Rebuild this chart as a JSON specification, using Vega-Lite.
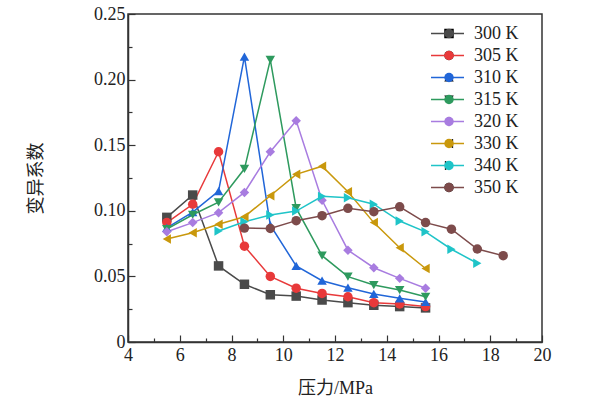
{
  "$schema": "https://vega.github.io/schema/vega-lite/v6.json",
  "width": 414,
  "height": 328,
  "autosize": "none",
  "padding": {"left": 128, "top": 14, "right": 58, "bottom": 62},
  "background": "white",
  "config": {
    "view": {"stroke": "#333333", "strokeWidth": 1.5},
    "font": "Liberation Serif, DejaVu Serif, serif",
    "axis": {
      "grid": false,
      "domainColor": "#333333",
      "domainWidth": 1.5,
      "tickColor": "#333333",
      "tickWidth": 1.2,
      "labelFont": "Liberation Serif, DejaVu Serif, serif",
      "labelFontSize": 18,
      "labelColor": "#222222",
      "titleFont": "Liberation Serif, Noto Sans CJK SC",
      "titleFontSize": 18,
      "titleFontWeight": "normal",
      "titleColor": "#222222"
    },
    "legend": {
      "labelFont": "Liberation Serif, DejaVu Serif, serif",
      "labelFontSize": 18,
      "labelColor": "#222222"
    }
  },
  "data": {
    "values": [
      {"T": "300 K", "P": 5.5, "v": 0.095},
      {"T": "300 K", "P": 6.5, "v": 0.112},
      {"T": "300 K", "P": 7.5, "v": 0.058},
      {"T": "300 K", "P": 8.5, "v": 0.044},
      {"T": "300 K", "P": 9.5, "v": 0.036},
      {"T": "300 K", "P": 10.5, "v": 0.035},
      {"T": "300 K", "P": 11.5, "v": 0.032},
      {"T": "300 K", "P": 12.5, "v": 0.030},
      {"T": "300 K", "P": 13.5, "v": 0.028},
      {"T": "300 K", "P": 14.5, "v": 0.027},
      {"T": "300 K", "P": 15.5, "v": 0.026},
      {"T": "305 K", "P": 5.5, "v": 0.091},
      {"T": "305 K", "P": 6.5, "v": 0.105},
      {"T": "305 K", "P": 7.5, "v": 0.145},
      {"T": "305 K", "P": 8.5, "v": 0.073},
      {"T": "305 K", "P": 9.5, "v": 0.050},
      {"T": "305 K", "P": 10.5, "v": 0.041},
      {"T": "305 K", "P": 11.5, "v": 0.037},
      {"T": "305 K", "P": 12.5, "v": 0.0345},
      {"T": "305 K", "P": 13.5, "v": 0.030},
      {"T": "305 K", "P": 14.5, "v": 0.029},
      {"T": "305 K", "P": 15.5, "v": 0.027},
      {"T": "310 K", "P": 5.5, "v": 0.087},
      {"T": "310 K", "P": 6.5, "v": 0.099},
      {"T": "310 K", "P": 7.5, "v": 0.115},
      {"T": "310 K", "P": 8.5, "v": 0.2175},
      {"T": "310 K", "P": 9.5, "v": 0.089},
      {"T": "310 K", "P": 10.5, "v": 0.058},
      {"T": "310 K", "P": 11.5, "v": 0.0467},
      {"T": "310 K", "P": 12.5, "v": 0.0414},
      {"T": "310 K", "P": 13.5, "v": 0.0366},
      {"T": "310 K", "P": 14.5, "v": 0.0333},
      {"T": "310 K", "P": 15.5, "v": 0.0305},
      {"T": "315 K", "P": 5.5, "v": 0.086},
      {"T": "315 K", "P": 6.5, "v": 0.097},
      {"T": "315 K", "P": 7.5, "v": 0.1065},
      {"T": "315 K", "P": 8.5, "v": 0.132},
      {"T": "315 K", "P": 9.5, "v": 0.215},
      {"T": "315 K", "P": 10.5, "v": 0.102},
      {"T": "315 K", "P": 11.5, "v": 0.0658},
      {"T": "315 K", "P": 12.5, "v": 0.0498},
      {"T": "315 K", "P": 13.5, "v": 0.0434},
      {"T": "315 K", "P": 14.5, "v": 0.0396},
      {"T": "315 K", "P": 15.5, "v": 0.0345},
      {"T": "320 K", "P": 5.5, "v": 0.084},
      {"T": "320 K", "P": 6.5, "v": 0.091},
      {"T": "320 K", "P": 7.5, "v": 0.0986},
      {"T": "320 K", "P": 8.5, "v": 0.114},
      {"T": "320 K", "P": 9.5, "v": 0.145},
      {"T": "320 K", "P": 10.5, "v": 0.1687},
      {"T": "320 K", "P": 11.5, "v": 0.108},
      {"T": "320 K", "P": 12.5, "v": 0.070},
      {"T": "320 K", "P": 13.5, "v": 0.0566},
      {"T": "320 K", "P": 14.5, "v": 0.0485},
      {"T": "320 K", "P": 15.5, "v": 0.041},
      {"T": "330 K", "P": 5.5, "v": 0.0785},
      {"T": "330 K", "P": 6.5, "v": 0.0833},
      {"T": "330 K", "P": 7.5, "v": 0.0897},
      {"T": "330 K", "P": 8.5, "v": 0.0955},
      {"T": "330 K", "P": 9.5, "v": 0.1115},
      {"T": "330 K", "P": 10.5, "v": 0.1278},
      {"T": "330 K", "P": 11.5, "v": 0.134},
      {"T": "330 K", "P": 12.5, "v": 0.1146},
      {"T": "330 K", "P": 13.5, "v": 0.091},
      {"T": "330 K", "P": 14.5, "v": 0.0719},
      {"T": "330 K", "P": 15.5, "v": 0.056},
      {"T": "340 K", "P": 7.5, "v": 0.0846},
      {"T": "340 K", "P": 8.5, "v": 0.0917},
      {"T": "340 K", "P": 9.5, "v": 0.0968},
      {"T": "340 K", "P": 10.5, "v": 0.0998},
      {"T": "340 K", "P": 11.5, "v": 0.111},
      {"T": "340 K", "P": 12.5, "v": 0.110},
      {"T": "340 K", "P": 13.5, "v": 0.105},
      {"T": "340 K", "P": 14.5, "v": 0.0922},
      {"T": "340 K", "P": 15.5, "v": 0.084},
      {"T": "340 K", "P": 16.5, "v": 0.0707},
      {"T": "340 K", "P": 17.5, "v": 0.060},
      {"T": "350 K", "P": 8.5, "v": 0.0868},
      {"T": "350 K", "P": 9.5, "v": 0.0865},
      {"T": "350 K", "P": 10.5, "v": 0.0925},
      {"T": "350 K", "P": 11.5, "v": 0.0963},
      {"T": "350 K", "P": 12.5, "v": 0.1019},
      {"T": "350 K", "P": 13.5, "v": 0.0993},
      {"T": "350 K", "P": 14.5, "v": 0.103},
      {"T": "350 K", "P": 15.5, "v": 0.091},
      {"T": "350 K", "P": 16.5, "v": 0.086},
      {"T": "350 K", "P": 17.5, "v": 0.0709},
      {"T": "350 K", "P": 18.5, "v": 0.0658}
    ]
  },
  "encoding": {
    "x": {
      "field": "P",
      "type": "quantitative",
      "scale": {"domain": [4, 20], "nice": false},
      "axis": {
        "title": "压力/MPa",
        "labelFont": "Liberation Serif, DejaVu Serif, serif",
        "values": [4, 5, 6, 7, 8, 9, 10, 11, 12, 13, 14, 15, 16, 17, 18, 19, 20],
        "labelExpr": "datum.value % 2 == 0 ? datum.label : ''",
        "tickSize": {"condition": {"test": "datum.value % 2 == 0", "value": -7}, "value": -4},
        "labelPadding": 11,
        "titlePadding": 15,
        "labelFlush": false
      }
    },
    "y": {
      "field": "v",
      "type": "quantitative",
      "scale": {"domain": [0, 0.25], "nice": false},
      "axis": {
        "title": "变异系数",
        "labelFont": "Liberation Serif, DejaVu Serif, serif",
        "values": [0, 0.025, 0.05, 0.075, 0.1, 0.125, 0.15, 0.175, 0.2, 0.225, 0.25],
        "labelExpr": "datum.value == 0 ? '0' : (round(datum.value * 40) % 2 == 0 ? format(datum.value, '.2f') : '')",
        "tickSize": {"condition": {"test": "round(datum.value * 40) % 2 == 0", "value": -7}, "value": -4},
        "labelPadding": 10,
        "titlePadding": 48,
        "labelFlush": false
      }
    }
  },
  "layer": [
    {
      "mark": {"type": "line", "strokeWidth": 1.5},
      "encoding": {
        "color": {
          "field": "T",
          "type": "nominal",
          "scale": {
            "domain": ["300 K", "305 K", "310 K", "315 K", "320 K", "330 K", "340 K", "350 K"],
            "range": ["#4a4a4a", "#e8393a", "#2166d8", "#2e9a5e", "#a87ce0", "#c9980c", "#1fc4c8", "#7d4b4b"]
          },
          "legend": {
            "title": null,
            "orient": "none",
            "legendX": 302,
            "legendY": 11,
            "padding": 0,
            "symbolType": "stroke",
            "symbolSize": 1089,
            "symbolStrokeWidth": 1.5,
            "labelFont": "Liberation Serif, DejaVu Serif, serif",
            "labelOffset": 9,
            "rowPadding": 3,
            "clipHeight": 17
          }
        }
      }
    },
    {
      "mark": {"type": "point", "filled": true, "opacity": 1, "size": 90},
      "encoding": {
        "color": {
          "field": "T",
          "type": "nominal",
          "scale": {
            "domain": ["300 K", "305 K", "310 K", "315 K", "320 K", "330 K", "340 K", "350 K"],
            "range": ["#4a4a4a", "#e8393a", "#2166d8", "#2e9a5e", "#a87ce0", "#c9980c", "#1fc4c8", "#7d4b4b"]
          },
          "legend": {
            "title": null,
            "orient": "none",
            "legendX": 312,
            "legendY": 11,
            "padding": 0,
            "symbolSize": 90,
            "labelExpr": "''",
            "rowPadding": 3,
            "clipHeight": 17
          }
        },
        "shape": {
          "field": "T",
          "type": "nominal",
          "scale": {
            "domain": ["300 K", "305 K", "310 K", "315 K", "320 K", "330 K", "340 K", "350 K"],
            "range": ["square", "circle", "triangle-up", "triangle-down", "diamond", "triangle-left", "triangle-right", "circle"]
          },
          "legend": {
            "title": null,
            "orient": "none",
            "legendX": 312,
            "legendY": 11,
            "padding": 0,
            "symbolSize": 90,
            "labelExpr": "''",
            "rowPadding": 3,
            "clipHeight": 17
          }
        }
      }
    }
  ],
  "resolve": {"scale": {"color": "independent"}, "legend": {"color": "independent"}}
}
